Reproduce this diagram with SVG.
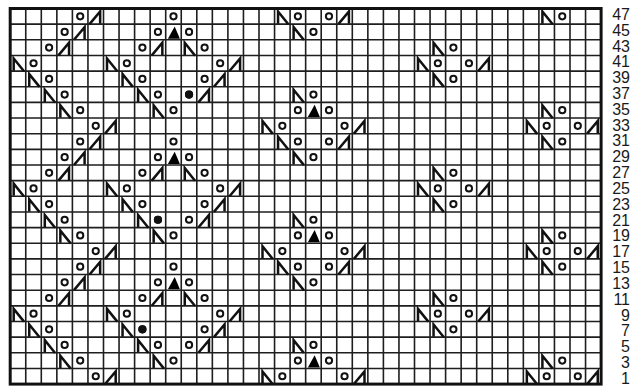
<svg xmlns="http://www.w3.org/2000/svg" width="638" height="388" viewBox="0 0 638 388">
<style>
.grid{fill:none;stroke:#1e1e1e;stroke-width:1.6}
.border{fill:none;stroke:#111;stroke-width:3}
.sym{fill:none;stroke:#111;stroke-width:2.5;stroke-linejoin:miter;stroke-linecap:butt}
.dot{fill:none;stroke:#111;stroke-width:2}
.dotf{fill:#111;stroke:#111;stroke-width:2}
.tri{fill:#000}
.lbl{font-family:"Liberation Sans",Arial,sans-serif;font-size:16px;fill:#1a1a1a;text-anchor:end}
</style>
<defs>
<circle id="o" class="dot" cx="7.8" cy="7.8" r="3.1"/>
<circle id="of" class="dotf" cx="7.8" cy="7.8" r="3.1"/>
<polyline id="n" class="sym" points="3.5,15.2 3.5,3 13.8,15.8"/>
<polyline id="k" class="sym" points="1.6,15.6 12.2,3 12.2,15.2"/>
<polygon id="t" class="tri" points="2.2,14.6 9,2.4 14.2,14.6"/>
<g id="block">
<use href="#o" x="72.4" y="0"/><use href="#k" x="87.95" y="0"/>
<use href="#o" x="165.7" y="0"/>
<use href="#n" x="274.55" y="0"/><use href="#o" x="290.1" y="0"/>
<use href="#o" x="321.2" y="0"/><use href="#k" x="336.75" y="0"/>
<use href="#n" x="538.9" y="0"/><use href="#o" x="554.45" y="0"/>
<use href="#o" x="56.85" y="15.65"/><use href="#k" x="72.4" y="15.65"/>
<use href="#o" x="150.15" y="15.65"/><use href="#t" x="165.7" y="15.65"/><use href="#o" x="181.25" y="15.65"/>
<use href="#n" x="290.1" y="15.65"/><use href="#o" x="305.65" y="15.65"/>
<use href="#o" x="41.3" y="31.3"/><use href="#k" x="56.85" y="31.3"/>
<use href="#o" x="134.6" y="31.3"/><use href="#k" x="150.15" y="31.3"/>
<use href="#n" x="181.25" y="31.3"/><use href="#o" x="196.8" y="31.3"/>
<use href="#n" x="430.05" y="31.3"/><use href="#o" x="445.6" y="31.3"/>
<use href="#n" x="10.2" y="46.95"/><use href="#o" x="25.75" y="46.95"/>
<use href="#n" x="103.5" y="46.95"/><use href="#o" x="119.05" y="46.95"/>
<use href="#o" x="212.35" y="46.95"/><use href="#k" x="227.9" y="46.95"/>
<use href="#n" x="414.5" y="46.95"/><use href="#o" x="430.05" y="46.95"/>
<use href="#o" x="461.15" y="46.95"/><use href="#k" x="476.7" y="46.95"/>
<use href="#n" x="25.75" y="62.6"/><use href="#o" x="41.3" y="62.6"/>
<use href="#n" x="119.05" y="62.6"/><use href="#o" x="134.6" y="62.6"/>
<use href="#o" x="196.8" y="62.6"/><use href="#k" x="212.35" y="62.6"/>
<use href="#n" x="430.05" y="62.6"/><use href="#o" x="445.6" y="62.6"/>
<use href="#n" x="41.3" y="78.25"/><use href="#o" x="56.85" y="78.25"/>
<use href="#n" x="134.6" y="78.25"/><use href="#o" x="150.15" y="78.25"/>
<use href="#o" x="181.25" y="78.25"/><use href="#k" x="196.8" y="78.25"/>
<use href="#n" x="290.1" y="78.25"/><use href="#o" x="305.65" y="78.25"/>
<use href="#n" x="56.85" y="93.9"/><use href="#o" x="72.4" y="93.9"/>
<use href="#n" x="150.15" y="93.9"/><use href="#o" x="165.7" y="93.9"/>
<use href="#o" x="290.1" y="93.9"/><use href="#t" x="305.65" y="93.9"/><use href="#o" x="321.2" y="93.9"/>
<use href="#n" x="538.9" y="93.9"/><use href="#o" x="554.45" y="93.9"/>
<use href="#o" x="87.95" y="109.55"/><use href="#k" x="103.5" y="109.55"/>
<use href="#n" x="259" y="109.55"/><use href="#o" x="274.55" y="109.55"/>
<use href="#o" x="336.75" y="109.55"/><use href="#k" x="352.3" y="109.55"/>
<use href="#n" x="523.35" y="109.55"/><use href="#o" x="538.9" y="109.55"/>
<use href="#o" x="570" y="109.55"/><use href="#k" x="585.55" y="109.55"/>
</g>
</defs>
<rect width="638" height="388" fill="#fff"/>
<g id="grid">
<path class="grid" d="M25.75,8.5V384.1M41.3,8.5V384.1M56.85,8.5V384.1M72.4,8.5V384.1M87.95,8.5V384.1M103.5,8.5V384.1M119.05,8.5V384.1M134.6,8.5V384.1M150.15,8.5V384.1M165.7,8.5V384.1M181.25,8.5V384.1M196.8,8.5V384.1M212.35,8.5V384.1M227.9,8.5V384.1M243.45,8.5V384.1M259,8.5V384.1M274.55,8.5V384.1M290.1,8.5V384.1M305.65,8.5V384.1M321.2,8.5V384.1M336.75,8.5V384.1M352.3,8.5V384.1M367.85,8.5V384.1M383.4,8.5V384.1M398.95,8.5V384.1M414.5,8.5V384.1M430.05,8.5V384.1M445.6,8.5V384.1M461.15,8.5V384.1M476.7,8.5V384.1M492.25,8.5V384.1M507.8,8.5V384.1M523.35,8.5V384.1M538.9,8.5V384.1M554.45,8.5V384.1M570,8.5V384.1M585.55,8.5V384.1
M10.2,24.15H601.1M10.2,39.8H601.1M10.2,55.45H601.1M10.2,71.1H601.1M10.2,86.75H601.1M10.2,102.4H601.1M10.2,118.05H601.1M10.2,133.7H601.1M10.2,149.35H601.1M10.2,165H601.1M10.2,180.65H601.1M10.2,196.3H601.1M10.2,211.95H601.1M10.2,227.6H601.1M10.2,243.25H601.1M10.2,258.9H601.1M10.2,274.55H601.1M10.2,290.2H601.1M10.2,305.85H601.1M10.2,321.5H601.1M10.2,337.15H601.1M10.2,352.8H601.1M10.2,368.45H601.1"/>
<rect class="border" x="10.2" y="8.5" width="590.9" height="375.6"/>
</g>
<g id="symbols">
<use href="#block" x="0" y="8.5"/>
<use href="#block" x="0" y="133.7"/>
<use href="#block" x="0" y="258.9"/>
<use href="#of" x="181.25" y="86.75"/>
<use href="#of" x="150.15" y="211.95"/>
<use href="#of" x="134.6" y="321.5"/>
</g>
<g id="labels" class="lbl">
<text x="630" y="19.8">47</text>
<text x="630" y="35.6">45</text>
<text x="630" y="51.5">43</text>
<text x="630" y="67.3">41</text>
<text x="630" y="83.1">39</text>
<text x="630" y="99.0">37</text>
<text x="630" y="114.8">35</text>
<text x="630" y="130.6">33</text>
<text x="630" y="146.4">31</text>
<text x="630" y="162.3">29</text>
<text x="630" y="178.1">27</text>
<text x="630" y="193.9">25</text>
<text x="630" y="209.8">23</text>
<text x="630" y="225.6">21</text>
<text x="630" y="241.4">19</text>
<text x="630" y="257.3">17</text>
<text x="630" y="273.1">15</text>
<text x="630" y="288.9">13</text>
<text x="630" y="304.7">11</text>
<text x="630" y="320.6">9</text>
<text x="630" y="336.4">7</text>
<text x="630" y="352.2">5</text>
<text x="630" y="368.1">3</text>
<text x="630" y="383.9">1</text>
</g>
</svg>
